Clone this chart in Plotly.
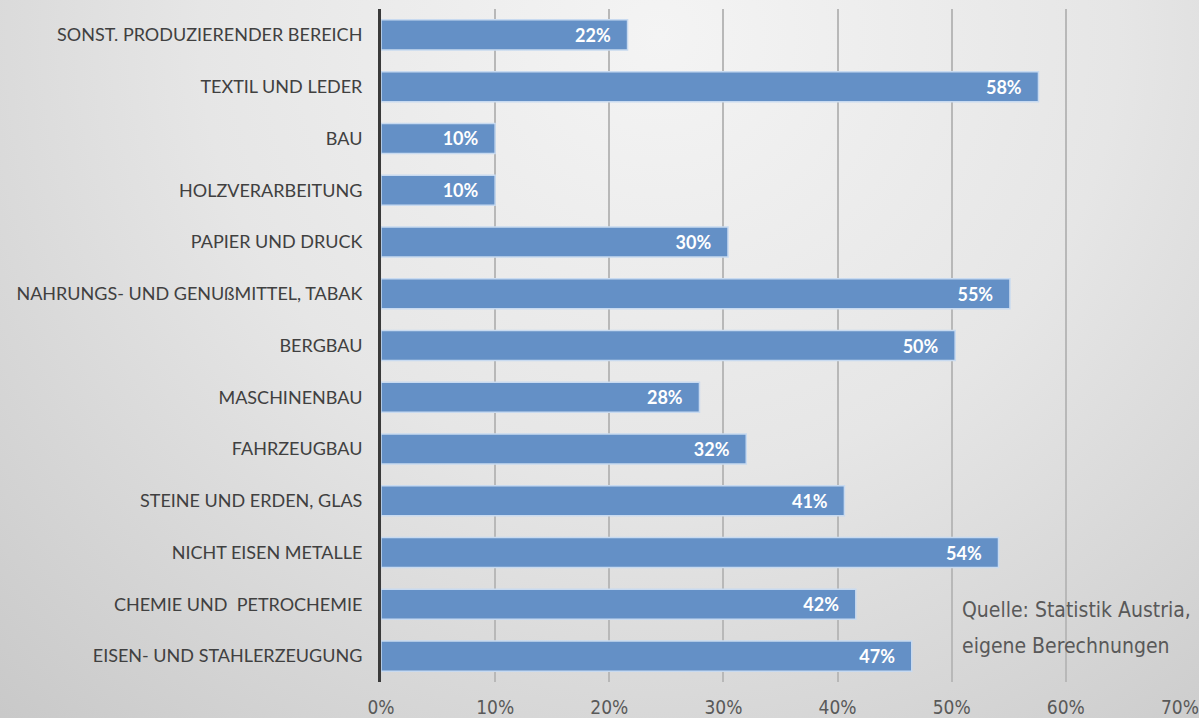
import base64
import plotly.graph_objects as go

categories = [
    "SONST. PRODUZIERENDER BEREICH",
    "TEXTIL UND LEDER",
    "BAU",
    "HOLZVERARBEITUNG",
    "PAPIER UND DRUCK",
    "NAHRUNGS- UND GENUßMITTEL, TABAK",
    "BERGBAU",
    "MASCHINENBAU",
    "FAHRZEUGBAU",
    "STEINE UND ERDEN, GLAS",
    "NICHT EISEN METALLE",
    "CHEMIE UND  PETROCHEMIE",
    "EISEN- UND STAHLERZEUGUNG",
]
values = [0.216, 0.576, 0.10, 0.10, 0.304, 0.551, 0.503, 0.279, 0.32, 0.406, 0.541, 0.416, 0.465]
x_ticks = [0, 0.1, 0.2, 0.3, 0.4, 0.5, 0.6, 0.7]
x_tick_labels = ["0%", "10%", "20%", "30%", "40%", "50%", "60%", "70%"]
source_lines = ["Quelle: Statistik Austria,", "eigene Berechnungen"]

W, H = 1199, 718
L, R, T, B = 381, 1180, 9, 682

svg = f'''<svg xmlns="http://www.w3.org/2000/svg" width="{W}" height="{H}" viewBox="0 0 {W} {H}" preserveAspectRatio="none">
<defs><radialGradient id="g" cx="0.55" cy="0.05" r="0.85" fx="0.55" fy="0.05" gradientTransform="translate(0.55,0.05) scale(1,1.6) translate(-0.55,-0.05)">
<stop offset="0" stop-color="#f4f4f4"/><stop offset="0.45" stop-color="#e6e6e6"/><stop offset="1" stop-color="#c6c6c6"/></radialGradient></defs>
<rect width="{W}" height="{H}" fill="url(#g)"/></svg>'''
src = "data:image/svg+xml;base64," + base64.b64encode(svg.encode()).decode()

fig = go.Figure()
fig.add_trace(go.Bar(
    x=values, y=categories, orientation="h",
    marker=dict(color="#6490c6", line=dict(color="#c8daf0", width=1.5)),
    width=0.58,
    texttemplate="<b>%{x:.0%}</b>\u00a0\u00a0\u00a0",
    textposition="inside", insidetextanchor="end",
    textfont=dict(family="Lato", size=18, color="white"),
    hoverinfo="skip",
))

pw = R - L
ph = B - T
fig.add_layout_image(dict(
    source=src, xref="paper", yref="paper",
    x=-L / pw, y=1 + T / ph, sizex=W / pw, sizey=H / ph,
    xanchor="left", yanchor="top", sizing="stretch", layer="below",
))

for i, line in enumerate(source_lines):
    fig.add_annotation(
        text=line, xref="paper", yref="paper",
        x=(960 - L) / pw, y=1 - (610 + 36 * i - T) / ph,
        xanchor="left", yanchor="middle", showarrow=False,
        font=dict(family="DejaVu Sans Condensed", size=21, color="#595959"),
    )

fig.update_layout(
    width=W, height=H,
    margin=dict(l=L, r=W - R, t=T, b=H - B, pad=0),
    paper_bgcolor="#e0e0e0", plot_bgcolor="rgba(0,0,0,0)",
    showlegend=False, bargap=0.42,
    xaxis=dict(
        range=[0, 0.7], tickvals=x_ticks, ticktext=x_tick_labels,
        showgrid=True, gridcolor="#b8b8b8", gridwidth=1.5, zeroline=False,
        ticks="outside", ticklen=8, tickcolor="rgba(0,0,0,0)",
        tickfont=dict(family="DejaVu Sans Condensed", size=19, color="#595959"),
        fixedrange=True, automargin=False,
    ),
    yaxis=dict(
        autorange="reversed", showline=True, linecolor="#3a3a3a", linewidth=3,
        showgrid=False, ticks="outside", ticklen=12, tickcolor="rgba(0,0,0,0)",
        tickfont=dict(family="Lato", size=18, color="#404040"),
        fixedrange=True, automargin=False,
    ),
)

fig.write_html("out.html", config={"displayModeBar": False},
               post_script="document.body.style.margin='0';")
